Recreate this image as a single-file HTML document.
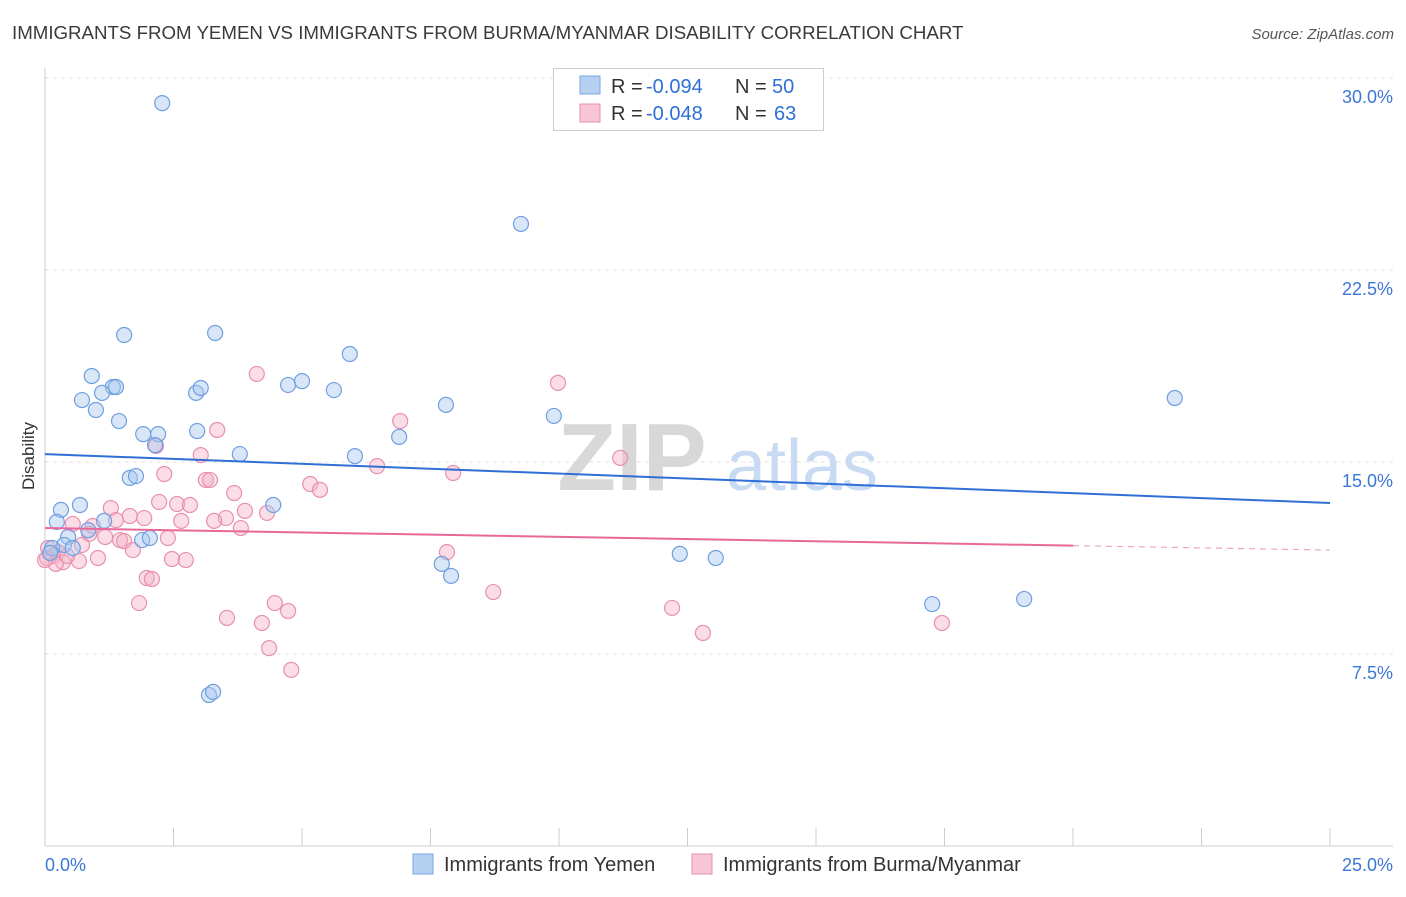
<!DOCTYPE html>
<html><head><meta charset="utf-8"><style>
body{margin:0;background:#fff;font-family:"Liberation Sans",sans-serif;}
svg text{font-family:"Liberation Sans",sans-serif;}
</style></head><body>
<svg id="chart" width="1406" height="892" xmlns="http://www.w3.org/2000/svg">
<text x="12" y="39" font-size="18.7" fill="#3a3a3a">IMMIGRANTS FROM YEMEN VS IMMIGRANTS FROM BURMA/MYANMAR DISABILITY CORRELATION CHART</text>
<text x="1394" y="39" font-size="15" fill="#555" font-style="italic" text-anchor="end">Source: ZipAtlas.com</text>
<g id="grid"></g>
<g>
<text x="632" y="490" font-size="96" fill="#d8d8d8" font-family="Liberation Serif" text-anchor="middle" font-weight="bold">ZIP</text>
<text x="802" y="490" font-size="72" fill="#c9dbf2" text-anchor="middle">atlas</text>
</g>
<g id="marks"></g>
<text x="34" y="456" font-size="17" fill="#333" transform="rotate(-90 34 456)" text-anchor="middle">Disability</text>
<g>
<rect x="553.5" y="68.5" width="270" height="62" fill="#fff" stroke="#ccc"/>
<rect x="580" y="76" width="20" height="18" fill="#b6d0f2" stroke="#7aa7e0"/>
<rect x="580" y="104" width="20" height="18" fill="#f8c5d5" stroke="#e890ad"/>
<text x="611" y="93" font-size="20" fill="#333">R =</text>
<text x="646" y="93" font-size="20" fill="#2f6fd6">-0.094</text>
<text x="735" y="93" font-size="20" fill="#333">N =</text>
<text x="772" y="93" font-size="20" fill="#2f6fd6">50</text>
<text x="611" y="120" font-size="20" fill="#333">R =</text>
<text x="646" y="120" font-size="20" fill="#2f6fd6">-0.048</text>
<text x="735" y="120" font-size="20" fill="#333">N =</text>
<text x="774" y="120" font-size="20" fill="#2f6fd6">63</text>
</g>
<g>
<rect x="413" y="854" width="20" height="20" fill="#b6d0f2" stroke="#7aa7e0"/>
<text x="444" y="871" font-size="20" fill="#333">Immigrants from Yemen</text>
<rect x="692" y="854" width="20" height="20" fill="#f8c5d5" stroke="#e890ad"/>
<text x="723" y="871" font-size="20" fill="#333">Immigrants from Burma/Myanmar</text>
</g>
</svg>
<script>
const yTicks=[7.5,15,22.5,30];
const yTickLabels=["7.5%","15.0%","22.5%","30.0%"];
const xTicks=[0,2.5,5,7.5,10,12.5,15,17.5,20,22.5,25];
const xEndLabels=["0.0%","25.0%"];
const yemenX=[2.28,9.26,1.54,3.31,5.93,0.91,1.32,1.38,1.11,0.72,2.94,3.03,4.73,5.00,5.62,7.80,0.99,1.44,9.90,21.98,1.91,2.20,2.96,6.89,2.14,3.79,6.03,1.65,1.77,0.68,4.44,0.31,0.23,1.15,0.84,0.45,0.37,0.54,0.14,1.89,2.04,7.72,7.90,12.35,13.05,17.26,19.05,3.19,3.27,0.10];
const yemenY=[29.02,24.30,19.96,20.04,19.22,18.36,17.93,17.93,17.70,17.42,17.70,17.89,18.01,18.16,17.81,17.23,17.03,16.60,16.80,17.50,16.09,16.09,16.21,15.98,15.66,15.31,15.23,14.38,14.45,13.32,13.32,13.13,12.66,12.70,12.34,12.07,11.76,11.64,11.64,11.95,12.03,11.02,10.55,11.41,11.25,9.45,9.65,5.90,6.02,11.45];
const burmaX=[4.12,9.98,6.91,3.35,2.16,3.03,11.19,6.46,7.94,2.32,3.13,3.21,3.68,5.16,5.35,2.22,2.57,2.82,3.89,1.28,1.65,1.93,3.52,4.32,3.29,2.65,3.81,0.54,0.93,0.86,1.38,1.46,1.54,1.17,2.39,1.71,0.25,0.06,0.16,0.35,0.66,1.03,2.47,2.74,7.82,1.98,2.08,1.83,8.72,4.47,4.73,12.20,3.54,4.22,17.45,12.80,4.36,4.79,0.04,0.21,0.43,0.00,0.72];
const burmaY=[18.44,18.09,16.60,16.25,15.63,15.27,15.16,14.84,14.57,14.53,14.30,14.30,13.79,14.14,13.91,13.44,13.36,13.32,13.09,13.20,12.89,12.81,12.81,13.01,12.70,12.70,12.42,12.58,12.50,12.19,12.73,11.95,11.91,12.07,12.03,11.56,11.48,11.64,11.33,11.09,11.13,11.25,11.21,11.17,11.48,10.47,10.43,9.49,9.92,9.49,9.18,9.30,8.91,8.71,8.71,8.32,7.73,6.88,11.25,11.02,11.33,11.17,11.76];
const yemenTrend=[15.31,13.40];
const burmaTrend=[12.42,11.56];
const burmaSolidEnd=20;
const NS="http://www.w3.org/2000/svg";
const X=v=>45+v/25*1285, Y=v=>846-v/30*768;
const grid=document.getElementById('grid'), marks=document.getElementById('marks');
function mk(tag,attrs,parent){const e=document.createElementNS(NS,tag);for(const k in attrs)e.setAttribute(k,attrs[k]);parent.appendChild(e);return e;}
yTicks.forEach((t,i)=>{
 const l=mk('line',{x1:45,x2:1393,y1:Y(t),y2:Y(t),stroke:'#e2e2e2','stroke-dasharray':'4,4'},grid);
 
 
 const tx=mk('text',{x:1393,y:Y(t)+25,'font-size':18,fill:'#3b78d8','text-anchor':'end'},grid);
 tx.textContent=yTickLabels[i];
 
 
});
const ax=mk('line',{x1:45,x2:45,y1:68,y2:846,stroke:'#ccc'},grid);


const bx=mk('line',{x1:45,x2:1393,y1:846,y2:846,stroke:'#ccc'},grid);


xTicks.forEach(t=>{
 const l=mk('line',{x1:X(t),x2:X(t),y1:828,y2:846,stroke:'#ccc'},grid);
 
 
});
[[0,'start',45],[1,'end',1393]].forEach(([i,a,x])=>{
 const tx=mk('text',{x:x,y:871,'font-size':18,fill:'#3b78d8','text-anchor':a},grid);
 tx.textContent=xEndLabels[i];
 
 
});
function pts(xs,ys,fill,stroke,name){
 xs.forEach((x,i)=>{
  const c=mk('circle',{cx:X(x),cy:Y(ys[i]),r:7.5,fill:fill,'fill-opacity':0.45,stroke:stroke,'stroke-width':1.2},marks);
  
  
 });
}
pts(burmaX,burmaY,'#f4b3c8','#e890ad','burma-point');
pts(yemenX,yemenY,'#a9c8f0','#6f9fe0','yemen-point');
const yl=mk('line',{x1:X(0),y1:Y(yemenTrend[0]),x2:X(25),y2:Y(yemenTrend[1]),stroke:'#2f6fd6','stroke-width':2},marks);


const bm=burmaTrend[0]+(burmaTrend[1]-burmaTrend[0])*burmaSolidEnd/25;
const pl=mk('line',{x1:X(0),y1:Y(burmaTrend[0]),x2:X(burmaSolidEnd),y2:Y(bm),stroke:'#e8689a','stroke-width':2},marks);


const pd=mk('line',{x1:X(burmaSolidEnd),y1:Y(bm),x2:X(25),y2:Y(burmaTrend[1]),stroke:'#e8689a','stroke-width':1.2,'stroke-dasharray':'6,5','stroke-opacity':0.6},marks);


</script>
</body></html>
